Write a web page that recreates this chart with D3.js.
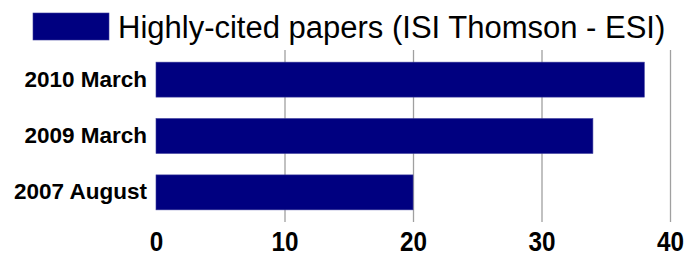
<!DOCTYPE html>
<html>
<head>
<meta charset="utf-8">
<script src="https://cdn.jsdelivr.net/npm/d3@7"></script>
<style>
  body { margin: 0; background: #fff; }
  svg { display: block; }
</style>
</head>
<body>
<div id="chart"></div>
<script>
const categories = ["2010 March", "2009 March", "2007 August"];
const values = [38, 34, 20];
const xTicks = [0, 10, 20, 30, 40];
const seriesName = "Highly-cited papers (ISI Thomson - ESI)";

const width = 694, height = 254;
const plot = { left: 156, right: 670, top: 52, bottom: 220, gridBottom: 222 };
const navy = "#000080";

const svg = d3.select("#chart").append("svg")
  .attr("width", width)
  .attr("height", height);

const x = d3.scaleLinear().domain([0, 40]).range([plot.left, plot.right]);
const y = d3.scaleBand().domain(categories)
  .range([plot.top, plot.bottom])
  .paddingInner(0.38)
  .paddingOuter(0.18);

// gridlines + tick labels
const axis = svg.append("g")
  .attr("transform", `translate(0,${plot.gridBottom})`)
  .call(d3.axisBottom(x).tickValues(xTicks).tickSize(-(plot.gridBottom - 50)).tickPadding(0));
axis.select(".domain").remove();
axis.selectAll(".tick line")
  .attr("stroke", "#a0a0a0")
  .attr("stroke-width", 1.3)
  .filter(d => d === 0).remove();
axis.selectAll(".tick text")
  .attr("y", 29.5)
  .attr("dy", 0)
  .attr("transform", "scale(0.9,1)")
  .attr("fill", "#000")
  .style("font-family", "'Liberation Sans', Arial, sans-serif")
  .style("font-weight", "bold")
  .style("font-size", "27px");

// bars
svg.append("g").selectAll("rect")
  .data(values)
  .join("rect")
  .attr("x", x(0))
  .attr("y", (d, i) => y(categories[i]))
  .attr("width", d => x(d) - x(0))
  .attr("height", y.bandwidth())
  .attr("fill", navy)
  .attr("stroke", "#3b3b9c")
  .attr("stroke-width", 0.6);

// category labels
svg.append("g").selectAll("text")
  .data(categories)
  .join("text")
  .attr("x", 147)
  .attr("y", d => y(d) + y.bandwidth() / 2 + 7)
  .attr("text-anchor", "end")
  .attr("fill", "#000")
  .style("font-family", "'Liberation Sans', Arial, sans-serif")
  .style("font-weight", "bold")
  .style("font-size", "22.5px")
  .text(d => d);

// legend
svg.append("rect")
  .attr("x", 33).attr("y", 13)
  .attr("width", 76).attr("height", 27)
  .attr("fill", navy)
  .attr("stroke", "#3b3b9c")
  .attr("stroke-width", 0.6);
svg.append("text")
  .attr("x", 118).attr("y", 38)
  .attr("fill", "#000")
  .style("font-family", "'Liberation Sans', Arial, sans-serif")
  .style("font-size", "31px")
  .text(seriesName);
</script>
</body>
</html>
